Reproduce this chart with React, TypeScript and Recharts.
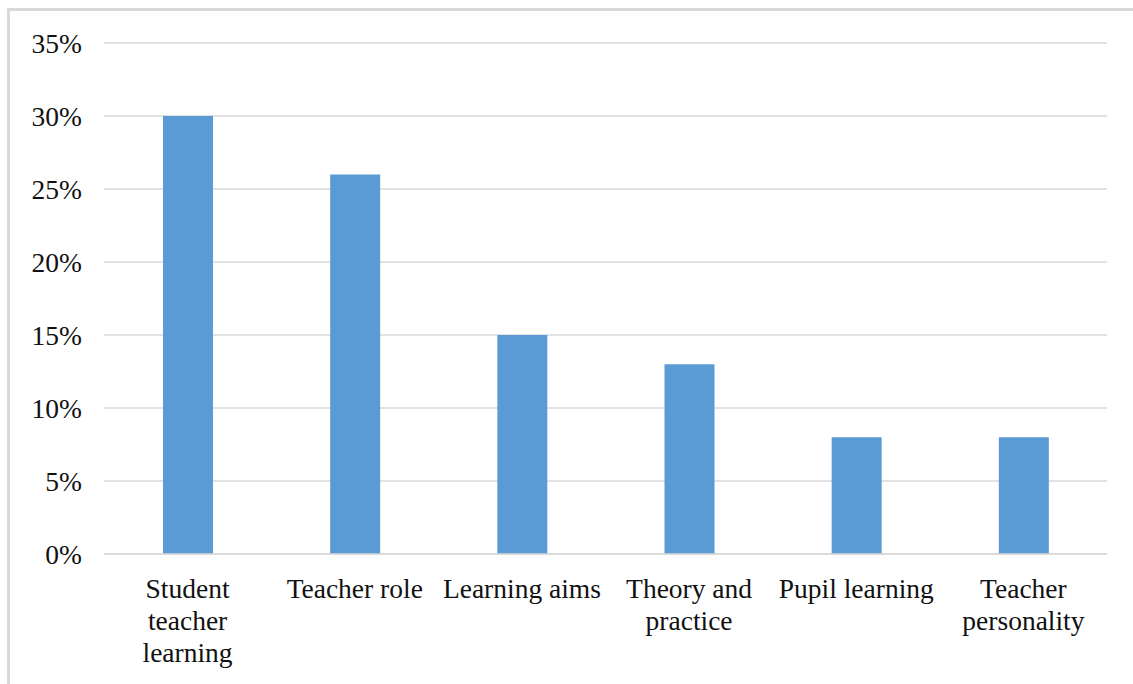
import React from "react";
import { BarChart, Bar, XAxis, YAxis, CartesianGrid } from "recharts";

const categories = [
  "Student teacher learning",
  "Teacher role",
  "Learning aims",
  "Theory and practice",
  "Pupil learning",
  "Teacher personality",
];
const tickLines: string[][] = [
  ["Student", "teacher", "learning"],
  ["Teacher role"],
  ["Learning aims"],
  ["Theory and", "practice"],
  ["Pupil learning"],
  ["Teacher", "personality"],
];
const values = [30, 26, 15, 13, 8, 8];
const yTicks = [0, 5, 10, 15, 20, 25, 30, 35];

const data = categories.map((c, i) => ({ name: c, value: values[i], idx: i }));

const FONT = '"Liberation Serif", "Times New Roman", serif';

const XTick = (props: any) => {
  const { x, y, index } = props;
  const lines = tickLines[index] || [props.payload.value];
  return (
    <text
      x={x}
      y={y}
      textAnchor="middle"
      fontFamily={FONT}
      fontSize={27.5}
      fill="#111"
    >
      {lines.map((l, i) => (
        <tspan key={i} x={x} y={y + 44 + i * 32}>
          {l}
        </tspan>
      ))}
    </text>
  );
};

export default function App() {
  return (
    <div
      style={{
        position: "fixed",
        left: 0,
        top: 0,
        width: 1133,
        height: 684,
        background: "#fff",
        overflow: "hidden",
      }}
    >
      <div
        style={{
          position: "absolute",
          left: 7,
          top: 8,
          width: 1126,
          height: 3,
          background: "#d9d9d9",
        }}
      />
      <div
        style={{
          position: "absolute",
          left: 7,
          top: 8,
          width: 3,
          height: 676,
          background: "#d9d9d9",
        }}
      />
      <div style={{ position: "absolute", left: 0, top: 0 }}>
        <BarChart
          width={1133}
          height={684}
          data={data}
          margin={{ top: 43, right: 26, bottom: 0, left: 0 }}
        >
          <CartesianGrid vertical={false} stroke="#d9d9d9" strokeWidth={1.5} />
          <XAxis
            dataKey="name"
            tick={<XTick />}
            tickLine={false}
            axisLine={{ stroke: "#d9d9d9", strokeWidth: 1.5 }}
            tickSize={0}
            tickMargin={0}
            interval={0}
            height={130}
          />
          <YAxis
            width={104}
            domain={[0, 35]}
            ticks={yTicks}
            tickFormatter={(v: number) => `${v}%`}
            tickLine={false}
            axisLine={false}
            tickSize={0}
            tickMargin={22}
            tick={{ fontFamily: FONT, fontSize: 27.5, fill: "#111" }}
          />
          <Bar
            dataKey="value"
            fill="#5b9bd5"
            barSize={50}
            isAnimationActive={false}
          />
        </BarChart>
      </div>
    </div>
  );
}
